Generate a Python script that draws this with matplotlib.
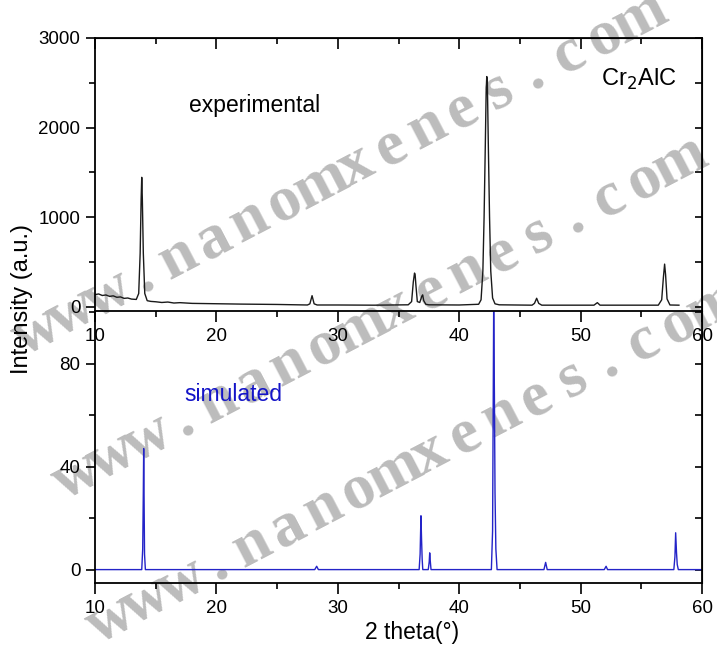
import math

import matplotlib

matplotlib.use("Agg")
import matplotlib.pyplot as plt  # noqa: E402
from matplotlib.ticker import MultipleLocator, NullFormatter  # noqa: E402

plt.rcParams["font.family"] = ["Liberation Sans", "DejaVu Sans"]

# experimental pattern (2 theta in degrees, counts)
EXP_2THETA = [
    10.0, 10.3, 10.6, 10.9, 11.2, 11.5, 11.8, 12.1, 12.4, 12.7, 13.0, 13.4,
    13.6, 13.72, 13.8, 13.85, 13.9, 13.98, 14.1, 14.3, 14.6, 15.0, 15.5, 16.0,
    16.5, 17.0, 18.0, 19.0, 20.0, 22.0, 25.0, 27.5, 27.7, 27.88, 28.05, 28.3,
    30.0, 33.0, 35.8, 36.08, 36.22, 36.32, 36.37, 36.43, 36.55, 36.75, 36.92,
    36.99, 37.08, 37.25, 37.5, 40.0, 41.6, 41.8, 41.95, 42.05, 42.15, 42.22,
    42.27, 42.32, 42.4, 42.5, 42.6, 42.75, 42.95, 43.3, 46.0, 46.2, 46.38,
    46.55, 46.8, 51.1, 51.38, 51.6, 56.4, 56.68, 56.82, 56.92, 57.0, 57.12,
    57.36, 58.1,
]
EXP_COUNTS = [
    138, 145, 128, 134, 118, 124, 108, 112, 96, 100, 88, 84,
    150, 600, 1200, 1446, 1200, 600, 150, 70, 62, 58, 50, 55,
    44, 48, 40, 38, 36, 32, 28, 22, 35, 126, 35, 22,
    22, 20, 24, 60, 280, 378, 360, 250, 60, 50, 120,
    135, 70, 30, 24, 22, 30, 80, 400, 1000, 1800, 2400,
    2570, 2500, 1800, 1000, 400, 100, 35, 24, 20, 40, 97,
    40, 20, 20, 48, 20, 20, 80, 330, 478, 360, 90,
    22, 20,
]

# simulated pattern (2 theta in degrees, relative intensity)
SIM_2THETA = [
    10.0, 13.85, 13.93, 13.98, 14.01, 14.04, 14.08, 14.15, 28.1, 28.26, 28.4,
    36.7, 36.78, 36.85, 36.9, 36.95, 37.0, 37.45, 37.53, 37.57, 37.62, 37.68,
    42.65, 42.75, 42.84, 42.9, 42.95, 43.02, 43.12, 46.98, 47.12, 47.25, 51.95,
    52.1, 52.22, 57.68, 57.77, 57.83, 57.9, 57.96, 58.05, 60.0,
]
SIM_INTENSITY = [
    0, 0, 8, 30, 47, 30, 6, 0, 0, 1.3, 0,
    0, 6, 20.9, 11.6, 4, 0, 0, 3, 6.5, 3.2, 0,
    0, 15, 102, 68, 30, 8, 0, 0, 2.8, 0, 0,
    1.3, 0, 0, 5, 14.3, 6.6, 2, 0, 0,
]

X_MAJOR = [10, 20, 30, 40, 50, 60]
WATERMARK = "www.nanomxenes.com"

W, H = 717, 661


def fx(px):
    return px / W


def fy(py):
    return 1 - py / H


def style_axis(ax, major_len=8, minor_len=4):
    ax.patch.set_visible(False)
    for spine in ax.spines.values():
        spine.set_linewidth(1.3)
    ax.tick_params(which="major", direction="out", length=major_len, width=1.2,
                   labelsize=13.5, pad=4)
    ax.tick_params(which="minor", direction="out", length=minor_len, width=1.2)


fig = plt.figure(figsize=(W / 100, H / 100), dpi=100)

left, right = 95, 702
ax2 = fig.add_axes([fx(left), fy(583), fx(right) - fx(left), fy(311) - fy(583)])
ax1 = fig.add_axes([fx(left), fy(311), fx(right) - fx(left), fy(38) - fy(311)])

# top panel: experimental
ax1.plot(EXP_2THETA, EXP_COUNTS, color="#1a1a1a", lw=1.0)
ax1.set_xlim(10, 60)
ax1.set_ylim(-45, 3000)
ax1.set_xticks(X_MAJOR)
ax1.xaxis.set_minor_locator(MultipleLocator(5))
ax1.yaxis.set_major_locator(MultipleLocator(1000))
ax1.yaxis.set_minor_locator(MultipleLocator(500))
style_axis(ax1, major_len=8, minor_len=4.5)
ax1.tick_params(axis="y", which="major", length=6.5)
ax1.tick_params(axis="y", which="minor", length=4)
top1 = ax1.secondary_xaxis("top")
top1.set_xticks(X_MAJOR)
top1.xaxis.set_minor_locator(MultipleLocator(5))
top1.tick_params(which="major", direction="in", length=8, width=1.2, labeltop=False)
top1.tick_params(which="minor", direction="in", length=4, width=1.2)
top1.xaxis.set_major_formatter(NullFormatter())
right1 = ax1.secondary_yaxis("right")
right1.yaxis.set_major_locator(MultipleLocator(500))
right1.tick_params(which="major", direction="in", length=5, width=1.2, labelright=False)
right1.yaxis.set_major_formatter(NullFormatter())
ax1.text(17.75, 2170, "experimental", fontsize=16.5, ha="left", va="baseline")
ax1.text(57.9, 2470, r"Cr$_2$AlC", fontsize=17, ha="right", va="baseline")

# bottom panel: simulated
ax2.plot(SIM_2THETA, SIM_INTENSITY, color="#2424c8", lw=1.0)
ax2.set_xlim(10, 60)
ax2.set_ylim(-5.2, 100.4)
ax2.set_xticks(X_MAJOR)
ax2.xaxis.set_minor_locator(MultipleLocator(5))
ax2.yaxis.set_major_locator(MultipleLocator(40))
ax2.yaxis.set_minor_locator(MultipleLocator(20))
style_axis(ax2, major_len=8, minor_len=4.5)
ax2.tick_params(axis="y", which="major", length=6.5)
ax2.tick_params(axis="y", which="minor", length=4)
ax2.spines["top"].set_visible(False)
right2 = ax2.secondary_yaxis("right")
right2.yaxis.set_major_locator(MultipleLocator(20))
right2.tick_params(which="major", direction="in", length=5, width=1.2, labelright=False)
right2.yaxis.set_major_formatter(NullFormatter())
ax2.text(17.33, 65.4, "simulated", fontsize=16.5, color="#1414c8",
         ha="left", va="baseline")

fig.text(fx(22), fy(299), "Intensity (a.u.)", rotation=90, fontsize=17,
         ha="center", va="center")
fig.text(fx(412), fy(633), "2 theta(°)", fontsize=16.5, ha="center", va="center")

# diagonal watermark behind the plot, three rows; anchors are the first "."
angle = 27.5
pitch = 40
for x0, y0 in [(150, 290), (190, 434), (224, 578)]:
    for index, char in enumerate(WATERMARK):
        step = (index - 3) * pitch
        px = x0 + step * math.cos(math.radians(angle))
        py = y0 - step * math.sin(math.radians(angle))
        fig.text(fx(px), fy(py), char, rotation=angle, rotation_mode="anchor",
                 ha="center", va="baseline", fontsize=46,
                 family="Liberation Serif", weight="bold",
                 color="#bcbcbc", zorder=-1)

fig.savefig("out.png", dpi=100)
